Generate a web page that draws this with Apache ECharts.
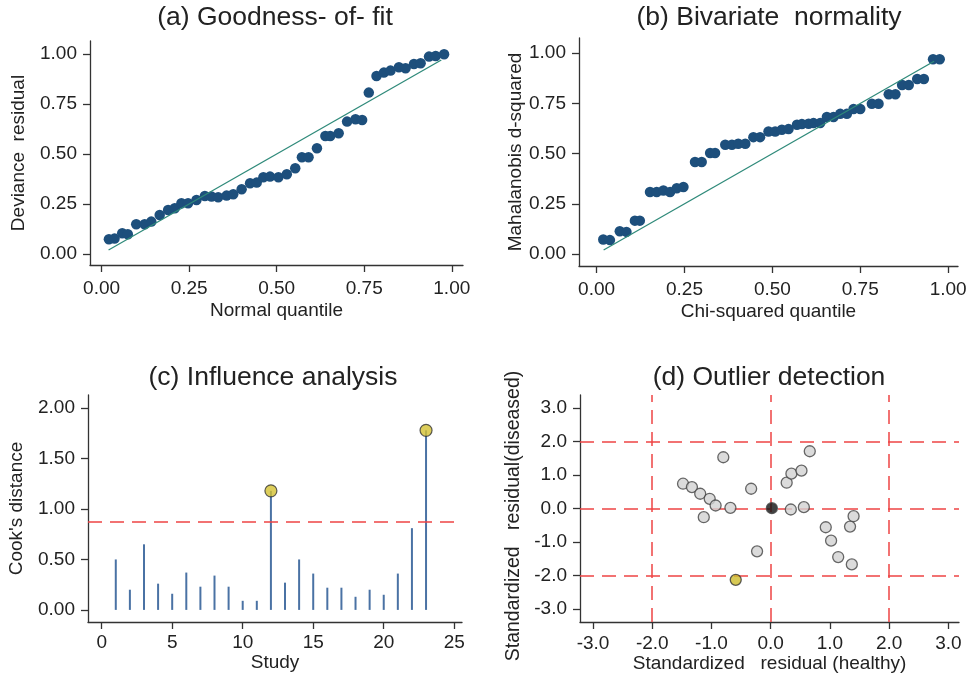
<!DOCTYPE html>
<html><head><meta charset="utf-8">
<script src="https://cdn.jsdelivr.net/npm/echarts@6.0.0/dist/echarts.min.js"></script>
<style>html,body{margin:0;padding:0;background:#fff}#c{width:973px;height:675px}</style>
</head><body><div id="c"></div>
<script>
// ---- Panel (a) Goodness-of-fit ----
const aX = [0.021,0.037,0.059,0.075,0.099,0.123,0.142,0.166,0.190,0.209,0.228,0.247,0.271,0.295,0.314,0.333,0.357,0.376,0.400,0.424,0.443,0.462,0.481,0.505,0.529,0.553,0.572,0.591,0.615,0.639,0.653,0.677,0.701,0.725,0.744,0.763,0.785,0.806,0.825,0.849,0.868,0.892,0.911,0.935,0.954,0.978];
const aY = [0.074,0.077,0.104,0.099,0.149,0.149,0.162,0.195,0.220,0.229,0.254,0.254,0.270,0.290,0.287,0.284,0.292,0.299,0.324,0.354,0.357,0.384,0.387,0.384,0.399,0.429,0.484,0.484,0.529,0.590,0.590,0.604,0.662,0.674,0.670,0.807,0.890,0.907,0.917,0.934,0.929,0.950,0.954,0.987,0.990,0.999];
const aRef = [0.02, 0.97];
// ---- Panel (b) Bivariate normality ----
const bX = [0.019,0.038,0.066,0.085,0.109,0.123,0.152,0.171,0.190,0.209,0.228,0.247,0.280,0.299,0.323,0.337,0.366,0.385,0.403,0.423,0.446,0.465,0.489,0.508,0.527,0.546,0.570,0.584,0.603,0.617,0.636,0.655,0.674,0.693,0.712,0.731,0.750,0.783,0.802,0.831,0.850,0.869,0.888,0.912,0.931,0.957,0.976];
const bY = [0.072,0.069,0.113,0.110,0.166,0.166,0.309,0.309,0.316,0.309,0.327,0.334,0.458,0.458,0.503,0.503,0.544,0.544,0.549,0.549,0.582,0.582,0.610,0.610,0.619,0.622,0.644,0.647,0.649,0.652,0.652,0.682,0.682,0.698,0.698,0.722,0.722,0.748,0.748,0.796,0.796,0.842,0.842,0.872,0.872,0.970,0.970];
const bRef = [0.02, 0.96];
// ---- Panel (c) Influence analysis ----
const studies = [1,2,3,4,5,6,7,8,9,10,11,12,13,14,15,16,17,18,19,20,21,22,23];
const cooks = [0.50,0.20,0.65,0.26,0.16,0.37,0.23,0.34,0.23,0.09,0.09,1.18,0.27,0.50,0.36,0.22,0.22,0.13,0.20,0.15,0.36,0.81,1.78];
const cookCutoff = 0.87;
// ---- Panel (d) Outlier detection ----
const dX = [-1.48,-1.33,-1.19,-1.03,-0.93,-1.13,-0.80,-0.68,-0.33,-0.23,0.27,0.35,0.52,0.66,0.34,0.56,0.93,1.02,1.14,1.34,1.40,1.37];
const dY = [0.74,0.64,0.44,0.29,0.09,-0.26,1.53,0.02,0.59,-1.28,0.77,1.04,1.13,1.71,-0.03,0.04,-0.56,-0.96,-1.45,-0.54,-0.23,-1.67];
const outX = [-0.59], outY = [-2.13];
const ctrX = [0.02], ctrY = [0.01];
const dLines = [-2, 0, 2];
// ---- tick labels ----
const ticksQ = [0, 0.25, 0.5, 0.75, 1];
const ticksCookY = [0, 0.5, 1, 1.5, 2];
const ticksStudy = [0, 5, 10, 15, 20, 25];
const ticksStd = [-3, -2, -1, 0, 1, 2, 3];
const titles = ['(a) Goodness- of- fit', '(b) Bivariate  normality', '(c) Influence analysis', '(d) Outlier detection'];
const dYName = 'Standardized   residual(diseased)';

const FONT = '"Liberation Sans", Arial, sans-serif';
const TXT = '#222';
const AX = '#333';
const zip = (xs, ys) => xs.map((x, i) => [x, ys[i]]);

function axis(gi, min, max, ticks, dec, name, nameGap, margin) {
  return {
    type: 'value', gridIndex: gi, min, max, name, nameLocation: 'middle', nameGap,
    nameTextStyle: { fontSize: 19, color: TXT, fontFamily: FONT },
    axisLine: { show: true, onZero: false, lineStyle: { color: AX, width: 1.3 } },
    axisTick: { show: true, length: 7, customValues: ticks, lineStyle: { color: AX, width: 1.3 } },
    axisLabel: { show: true, customValues: ticks, formatter: v => Number(v).toFixed(dec), fontSize: 19, color: TXT, fontFamily: FONT, margin },
    splitLine: { show: false }
  };
}

const chart = echarts.init(document.getElementById('c'), null, { renderer: 'canvas' });
const navy = '#1d4f7c';
const option = {
  backgroundColor: '#fff',
  animation: false,
  grid: [
    { left: 90, top: 41, width: 373, height: 224, outerBoundsMode: 'none', containLabel: false },
    { left: 579, top: 38, width: 379, height: 228, outerBoundsMode: 'none', containLabel: false },
    { left: 88, top: 395, width: 374, height: 227, outerBoundsMode: 'none', containLabel: false },
    { left: 580, top: 395, width: 379, height: 227, outerBoundsMode: 'none', containLabel: false }
  ],
  xAxis: [
    axis(0, -0.033, 1.032, ticksQ, 2, 'Normal quantile', 36, 14),
    axis(1, -0.05, 1.028, ticksQ, 2, 'Chi-squared quantile', 36, 14),
    axis(2, -0.97, 25.55, ticksStudy, 0, 'Study', 31, 11),
    axis(3, -3.22, 3.18, ticksStd, 1, 'Standardized   residual (healthy)', 31, 12)
  ],
  yAxis: [
    axis(0, -0.055, 1.065, ticksQ, 2, 'Deviance  residual', 62, 13),
    axis(1, -0.06, 1.076, ticksQ, 2, 'Mahalanobis d-squared', 52, 13),
    axis(2, -0.12, 2.13, ticksCookY, 2, "Cook's distance", 62, 13),
    axis(3, -3.39, 3.39, ticksStd, 1, '', 56, 13)
  ],
  graphic: titles.map((t, i) => ({
    type: 'text', x: [275, 769, 273, 769][i], y: [18, 18, 378, 378][i],
    style: { text: t, font: '26.5px ' + FONT, fill: TXT, textAlign: 'center', textVerticalAlign: 'middle' }
  })).concat([{
    type: 'text', x: 514, y: 516, rotation: Math.PI / 2,
    style: { text: dYName, font: '19.5px ' + FONT, fill: TXT, textAlign: 'center', textVerticalAlign: 'middle' }
  }]),
  series: [
    { type: 'line', xAxisIndex: 0, yAxisIndex: 0, data: [[aRef[0], aRef[0]], [aRef[1], aRef[1]]], symbol: 'none', lineStyle: { color: '#2f8a7a', width: 1.3 }, z: 3 },
    { type: 'scatter', xAxisIndex: 0, yAxisIndex: 0, data: zip(aX, aY), symbol: 'circle', symbolSize: 10.5, itemStyle: { color: navy, opacity: 1 }, z: 2 },
    { type: 'line', xAxisIndex: 1, yAxisIndex: 1, data: [[bRef[0], bRef[0]], [bRef[1], bRef[1]]], symbol: 'none', lineStyle: { color: '#2f8a7a', width: 1.3 }, z: 3 },
    { type: 'scatter', xAxisIndex: 1, yAxisIndex: 1, data: zip(bX, bY), symbol: 'circle', symbolSize: 10.5, itemStyle: { color: navy, opacity: 1 }, z: 2 },
    { type: 'bar', xAxisIndex: 2, yAxisIndex: 2, data: zip(studies, cooks), barWidth: 2, itemStyle: { color: '#4a72a4' },
      markLine: { silent: true, symbol: 'none', label: { show: false }, lineStyle: { color: '#ee4444', type: [14, 8], width: 1.5 }, data: [{ yAxis: cookCutoff }] } },
    { type: 'scatter', xAxisIndex: 2, yAxisIndex: 2, data: zip(studies, cooks).filter(p => p[1] > cookCutoff), symbolSize: 12,
      itemStyle: { color: '#d4c232', borderColor: '#333', borderWidth: 1.2 }, z: 5 },
    { type: 'scatter', xAxisIndex: 3, yAxisIndex: 3, data: zip(dX, dY), symbolSize: 11,
      itemStyle: { color: '#d2d2d2', borderColor: '#444', borderWidth: 1.3 }, z: 5,
      markLine: { silent: true, symbol: 'none', label: { show: false }, lineStyle: { color: '#ee4444', type: [14, 8], width: 1.5 },
        data: dLines.map(v => ({ xAxis: v })).concat(dLines.map(v => ({ yAxis: v }))) } },
    { type: 'scatter', xAxisIndex: 3, yAxisIndex: 3, data: zip(outX, outY), symbolSize: 11,
      itemStyle: { color: '#cdbb2a', borderColor: '#333', borderWidth: 1.3 }, z: 6 },
    { type: 'scatter', xAxisIndex: 3, yAxisIndex: 3, data: zip(ctrX, ctrY), symbolSize: 11,
      itemStyle: { color: '#111', borderColor: '#444', borderWidth: 1.3 }, z: 6 }
  ]
};
chart.setOption(option);
</script></body></html>
